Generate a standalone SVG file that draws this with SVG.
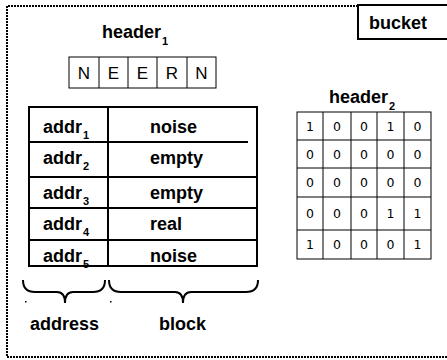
<svg xmlns="http://www.w3.org/2000/svg" width="447" height="360" viewBox="0 0 447 360">
  <style>
    .lbl { font-family: "Liberation Sans", Arial, sans-serif; font-weight: bold; font-size: 18px; fill: #000; }
    .sub { font-family: "Liberation Sans", Arial, sans-serif; font-weight: bold; font-size: 11px; fill: #000; }
    .cell { font-family: "Liberation Sans", Arial, sans-serif; font-size: 17px; fill: #000; text-anchor: middle; }
    .bit { font-family: "DejaVu Sans", sans-serif; font-size: 12.5px; fill: #000; text-anchor: middle; }
    .thick { fill: none; stroke: #000; stroke-width: 2; }
    .thin { fill: none; stroke: #000; stroke-width: 1; }
  </style>
  <rect width="447" height="360" fill="#fff"/>

  <!-- bucket outline (dotted) -->
  <g id="bucket">
    <path d="M 460 6 L 7 6 L 7 357 L 460 357" fill="none" stroke="#000" stroke-width="2" stroke-dasharray="2 1"/>
    <rect x="358" y="5" width="100" height="34" fill="#fff" stroke="#000" stroke-width="2"/>
    <text class="lbl" x="369" y="29">bucket</text>
  </g>

  <!-- header 1: one letter per block -->
  <g id="header1">
    <text class="lbl" x="102" y="38">header<tspan class="sub" dx="1" dy="7">1</tspan></text>
    <rect class="thin" x="69" y="57" width="147" height="31"/>
    <path class="thin" d="M 99 57 V 88 M 128 57 V 88 M 157 57 V 88 M 187 57 V 88"/>
    <text class="cell" x="84" y="79">N</text>
    <text class="cell" x="113.5" y="79">E</text>
    <text class="cell" x="142.5" y="79">E</text>
    <text class="cell" x="172" y="79">R</text>
    <text class="cell" x="201.5" y="79">N</text>
  </g>

  <!-- address / block table -->
  <g id="table">
    <rect class="thick" x="29" y="107" width="228" height="159"/>
    <path class="thick" d="M 108 107 V 266"/>
    <path class="thick" d="M 29 142 H 108 M 108 142 H 248"/>
    <path class="thick" d="M 29 177 H 257 M 29 208 H 257 M 29 240 H 257"/>
    <text class="lbl" x="43" y="133">addr<tspan class="sub" dx="1" dy="6">1</tspan></text>
    <text class="lbl" x="43" y="164">addr<tspan class="sub" dx="1" dy="6">2</tspan></text>
    <text class="lbl" x="43" y="199">addr<tspan class="sub" dx="1" dy="6">3</tspan></text>
    <text class="lbl" x="43" y="230">addr<tspan class="sub" dx="1" dy="6">4</tspan></text>
    <text class="lbl" x="43" y="262">addr<tspan class="sub" dx="1" dy="6">5</tspan></text>
    <text class="lbl" x="150" y="133">noise</text>
    <text class="lbl" x="150" y="164">empty</text>
    <text class="lbl" x="150" y="199">empty</text>
    <text class="lbl" x="150" y="230">real</text>
    <text class="lbl" x="150" y="262">noise</text>
  </g>

  <!-- header 2: bit matrix -->
  <g id="header2">
    <text class="lbl" x="329" y="103">header<tspan class="sub" dx="1" dy="7">2</tspan></text>
    <rect class="thin" x="297" y="112" width="134" height="147"/>
    <path class="thin" d="M 323 112 V 259 M 351 112 V 259 M 377 112 V 259 M 404 112 V 259"/>
    <path class="thin" d="M 297 140 H 431 M 297 168 H 431 M 297 197 H 431 M 297 230 H 431"/>
    <g>
      <text class="bit" x="310" y="131">1</text><text class="bit" x="337" y="131">0</text><text class="bit" x="364" y="131">0</text><text class="bit" x="390.5" y="131">1</text><text class="bit" x="417.5" y="131">0</text>
      <text class="bit" x="310" y="159">0</text><text class="bit" x="337" y="159">0</text><text class="bit" x="364" y="159">0</text><text class="bit" x="390.5" y="159">0</text><text class="bit" x="417.5" y="159">0</text>
      <text class="bit" x="310" y="187">0</text><text class="bit" x="337" y="187">0</text><text class="bit" x="364" y="187">0</text><text class="bit" x="390.5" y="187">0</text><text class="bit" x="417.5" y="187">0</text>
      <text class="bit" x="310" y="218">0</text><text class="bit" x="337" y="218">0</text><text class="bit" x="364" y="218">0</text><text class="bit" x="390.5" y="218">1</text><text class="bit" x="417.5" y="218">1</text>
      <text class="bit" x="310" y="249">1</text><text class="bit" x="337" y="249">0</text><text class="bit" x="364" y="249">0</text><text class="bit" x="390.5" y="249">0</text><text class="bit" x="417.5" y="249">1</text>
    </g>
  </g>

  <!-- braces under the table columns -->
  <g id="braces">
    <path class="thick" d="M 23 280 Q 23 292 35 292 L 57 292 Q 65 292 65 303 Q 65 292 73 292 L 93 292 Q 105 292 105 280"/>
    <path class="thick" d="M 258 280 Q 258 292 246 292 L 191 292 Q 183 292 183 303 Q 183 292 175 292 L 121 292 Q 109 292 109 280"/>
    <rect x="25" y="301" width="1.5" height="1.5" fill="#000"/>
    <rect x="110" y="301" width="1.5" height="1.5" fill="#000"/>
  </g>

  <g id="address-label">
    <text class="lbl" x="30" y="330">address</text>
  </g>
  <g id="block-label">
    <text class="lbl" x="159" y="330">block</text>
  </g>
</svg>
